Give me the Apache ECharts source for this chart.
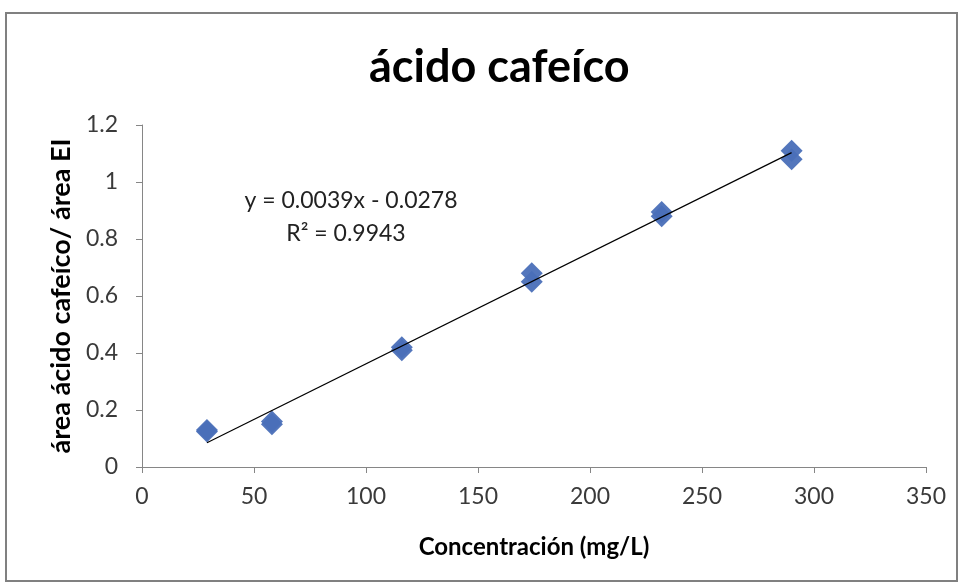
<!DOCTYPE html>
<html>
<head>
<meta charset="utf-8">
<script src="https://cdn.jsdelivr.net/npm/echarts@6/dist/echarts.min.js"></script>
<style>
  html, body { margin: 0; padding: 0; background: #fff; }
  #chart { width: 963px; height: 584px; }
</style>
</head>
<body>
<div id="chart"></div>
<script>
// Calibration standards: concentration (mg/L) and area ratio, duplicate injections
const concentrations = [29, 29, 58, 58, 116, 116, 174, 174, 232, 232, 290, 290];
const areaRatios     = [0.125, 0.13, 0.15, 0.16, 0.41, 0.42, 0.65, 0.68, 0.88, 0.895, 1.08, 1.11];

// Linear fit reported on the chart
const fitSlope = 0.0039;
const fitIntercept = -0.0278;
const fitR2 = 0.9943;

const xTicks = { min: 0, max: 350, interval: 50 };
const yTicks = { min: 0, max: 1.2, interval: 0.2 };

const points = concentrations.map((c, i) => [c, areaRatios[i]]);
const xMin = Math.min(...concentrations);
const xMax = Math.max(...concentrations);
const trend = [xMin, xMax].map(x => [x, fitSlope * x + fitIntercept]);

const font = 'Lato, "Open Sans", sans-serif';
const chart = echarts.init(document.getElementById('chart'));

chart.setOption({
  backgroundColor: '#ffffff',
  animation: false,
  title: {
    text: 'ácido cafeíco',
    left: 364,
    top: 40,
    textStyle: { fontFamily: font, fontSize: 45, fontWeight: 'bold', color: '#000' }
  },
  grid: { left: 142, right: 37, top: 125, bottom: 117 },
  xAxis: {
    type: 'value',
    min: xTicks.min, max: xTicks.max, interval: xTicks.interval,
    name: 'Concentración (mg/L)',
    nameLocation: 'middle',
    nameGap: 68,
    nameTextStyle: { fontFamily: font, fontSize: 24, fontWeight: 'bold', color: '#000' },
    axisLine: { show: true, lineStyle: { color: '#868686', width: 1 } },
    axisTick: { show: true, length: 6, lineStyle: { color: '#868686' } },
    axisLabel: { fontFamily: font, fontSize: 23, color: '#3a3a3a', margin: 18 },
    splitLine: { show: false }
  },
  yAxis: {
    type: 'value',
    min: yTicks.min, max: yTicks.max, interval: yTicks.interval,
    name: 'área ácido cafeíco/ área EI',
    nameLocation: 'middle',
    nameGap: 66,
    nameTextStyle: { fontFamily: font, fontSize: 27, fontWeight: 'bold', color: '#000' },
    axisLine: { show: true, lineStyle: { color: '#868686', width: 1 } },
    axisTick: { show: true, length: 6, lineStyle: { color: '#868686' } },
    axisLabel: { fontFamily: font, fontSize: 23, color: '#3a3a3a', margin: 24 },
    splitLine: { show: false }
  },
  graphic: [
    {
      type: 'rect',
      shape: { x: 6, y: 13, width: 951, height: 568 },
      style: { fill: 'none', stroke: '#808080', lineWidth: 2 },
      z: 100
    },
    {
      type: 'text',
      x: 351, y: 201,
      style: {
        text: 'y = ' + fitSlope.toFixed(4) + 'x - ' + Math.abs(fitIntercept).toFixed(4),
        fontFamily: font, fontSize: 23, fill: '#222',
        align: 'center', verticalAlign: 'middle'
      },
      z: 50
    },
    {
      type: 'text',
      x: 346, y: 234,
      style: {
        text: 'R² = ' + fitR2.toFixed(4),
        fontFamily: font, fontSize: 23, fill: '#222',
        align: 'center', verticalAlign: 'middle'
      },
      z: 50
    }
  ],
  series: [
    {
      type: 'line',
      data: trend,
      symbol: 'none',
      lineStyle: { color: '#000', width: 1.2 },
      z: 3
    },
    {
      type: 'scatter',
      data: points,
      symbol: 'diamond',
      symbolSize: 22,
      itemStyle: { color: '#4a6fb8', opacity: 0.95 },
      z: 2
    }
  ]
});
</script>
</body>
</html>
